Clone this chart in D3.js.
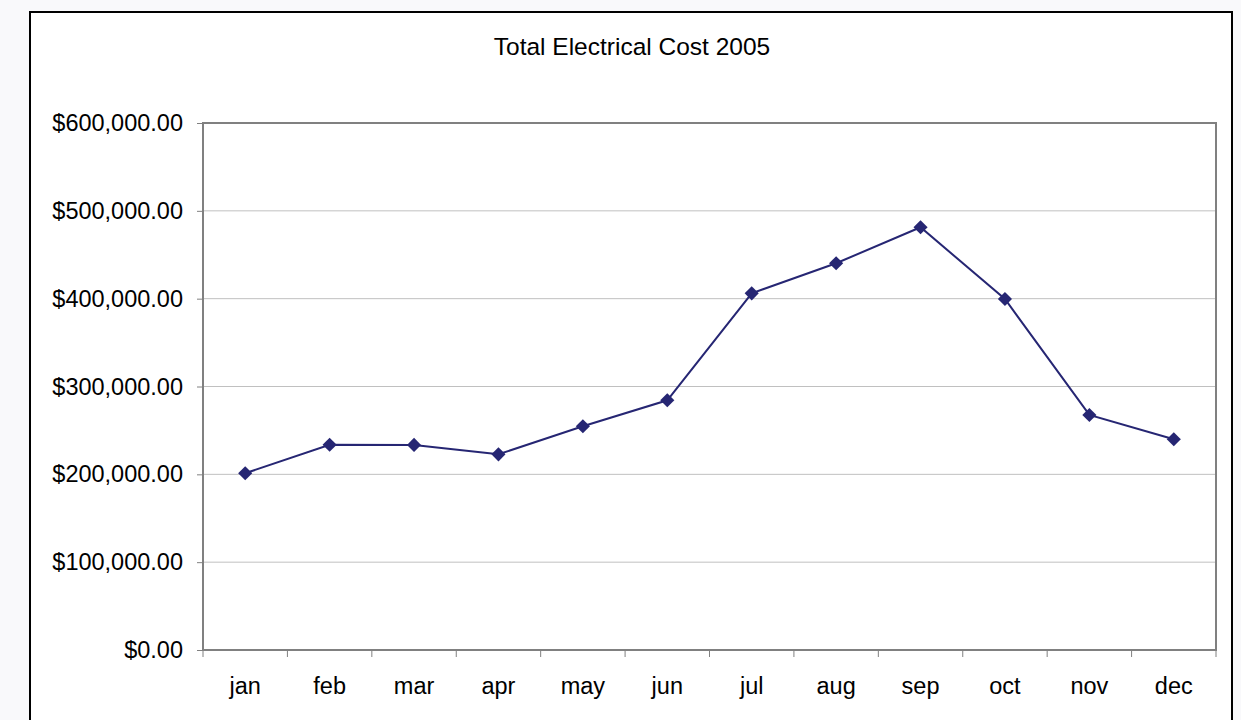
<!DOCTYPE html>
<html>
<head>
<meta charset="utf-8">
<script src="https://cdn.jsdelivr.net/npm/d3@7"></script>
<style>
  html, body { margin: 0; padding: 0; background: #f9f9fb; }
  svg { display: block; }
  text { font-family: "Liberation Sans", Arial, sans-serif; fill: #000; }
</style>
</head>
<body>
<svg id="chart" width="1241" height="720"></svg>
<script>
const title = "Total Electrical Cost 2005";
const months = ["jan","feb","mar","apr","may","jun","jul","aug","sep","oct","nov","dec"];
const costs = [201200, 233700, 233500, 222800, 254700, 284300, 406100, 440300, 481300, 399600, 267600, 239900];
const yTicks = [0, 100000, 200000, 300000, 400000, 500000, 600000];

const svg = d3.select("#chart");

// outer chart frame
svg.append("rect")
  .attr("x", 30).attr("y", 12).attr("width", 1202).attr("height", 730)
  .attr("fill", "#fff").attr("stroke", "#000").attr("stroke-width", 2);

const plot = { left: 203, top: 123, right: 1216, bottom: 650 };

const x = d3.scaleBand().domain(months).range([plot.left, plot.right]).padding(0);
const y = d3.scaleLinear().domain([0, 600000]).range([plot.bottom, plot.top]);

// title
svg.append("text")
  .attr("x", 632).attr("y", 55)
  .attr("text-anchor", "middle")
  .style("font-size", "24.5px")
  .text(title);

// gridlines
svg.append("g").selectAll("line")
  .data(yTicks.filter(d => d > 0 && d < 600000))
  .join("line")
  .attr("x1", plot.left).attr("x2", plot.right)
  .attr("y1", d => y(d)).attr("y2", d => y(d))
  .attr("stroke", "#c0c0c0").attr("stroke-width", 1);

// plot border
svg.append("rect")
  .attr("x", plot.left).attr("y", plot.top)
  .attr("width", plot.right - plot.left).attr("height", plot.bottom - plot.top)
  .attr("fill", "none").attr("stroke", "#808080").attr("stroke-width", 2);

// y axis
const fmt = d => "$" + d3.format(",.2f")(d);
const yAxis = d3.axisLeft(y).tickValues(yTicks).tickFormat(fmt).tickSize(6).tickPadding(14);
const gy = svg.append("g").attr("transform", `translate(${plot.left},0)`).call(yAxis);
gy.select(".domain").remove();
gy.selectAll(".tick line").attr("stroke", "#808080").attr("stroke-width", 1);
gy.selectAll(".tick text")
  .style("font-size", "23.5px")
  .style("font-family", "'Liberation Sans', Arial, sans-serif")
  .attr("fill", "#000");

// x axis: labels centred in bands, ticks at band boundaries
const xAxis = d3.axisBottom(x).tickSize(0).tickPadding(27);
const gx = svg.append("g").attr("transform", `translate(0,${plot.bottom})`).call(xAxis);
gx.select(".domain").remove();
gx.selectAll(".tick text")
  .style("font-size", "23.5px")
  .style("font-family", "'Liberation Sans', Arial, sans-serif")
  .attr("fill", "#000")
  .attr("dy", "0.71em");
const bounds = months.map(m => x(m)).concat([x(months[months.length - 1]) + x.bandwidth()]);
svg.append("g").selectAll("line")
  .data(bounds)
  .join("line")
  .attr("x1", d => d).attr("x2", d => d)
  .attr("y1", plot.bottom).attr("y2", plot.bottom + 7)
  .attr("stroke", "#808080").attr("stroke-width", 1);

// line
const cx = m => x(m) + x.bandwidth() / 2;
const line = d3.line().x((d, i) => cx(months[i])).y(d => y(d));
svg.append("path")
  .datum(costs)
  .attr("d", line)
  .attr("fill", "none")
  .attr("stroke", "#262673")
  .attr("stroke-width", 2);

// diamond markers
const sym = d3.symbol().type(d3.symbolSquare).size(100);
svg.append("g").selectAll("path")
  .data(costs)
  .join("path")
  .attr("d", sym)
  .attr("transform", (d, i) => `translate(${cx(months[i])},${y(d)}) rotate(45)`)
  .attr("fill", "#262673");
</script>
</body>
</html>
